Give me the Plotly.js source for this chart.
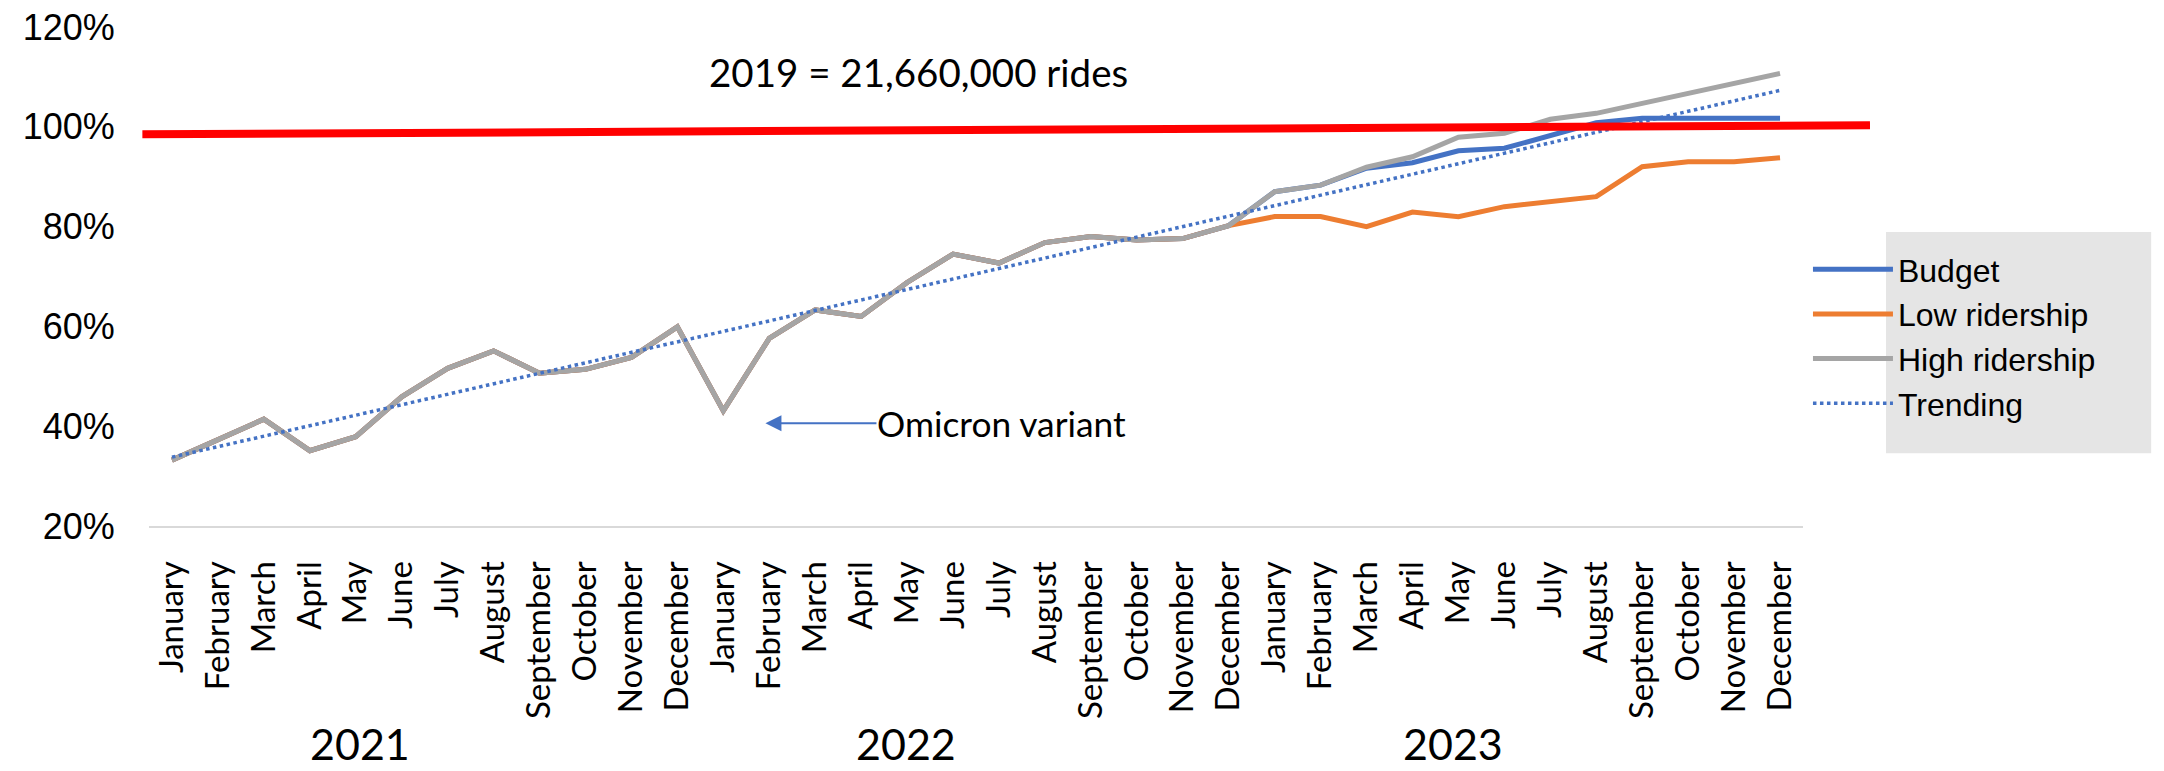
<!DOCTYPE html>
<html>
<head>
<meta charset="utf-8">
<script src="https://cdn.plot.ly/plotly-3.0.1.min.js"></script>
<style>html,body{margin:0;padding:0;background:#fff;}#chart{width:2164px;height:771px;}</style>
</head>
<body>
<div id="chart"></div>
<script>
// ---- data ----
const months = ['January','February','March','April','May','June','July','August','September','October','November','December'];
const years = ['2021','2022','2023'];

const budget = [33.2, 37.3, 41.4, 35.1, 37.9, 45.9, 51.6, 55.1, 50.6, 51.4, 53.8, 59.9,
                43.1, 57.6, 63.3, 62.0, 68.8, 74.5, 72.7, 76.8, 78.0, 77.3, 77.6, 80.2,
                87.0, 88.3, 91.7, 92.8, 95.2, 95.7, 98.2, 100.8, 101.7, 101.7, 101.6, 101.7];
const lowRidership = [33.2, 37.3, 41.4, 35.1, 37.9, 45.9, 51.6, 55.1, 50.6, 51.4, 53.8, 59.9,
                43.1, 57.6, 63.3, 62.0, 68.8, 74.5, 72.7, 76.8, 78.0, 77.3, 77.6, 80.2,
                82.0, 82.0, 80.0, 82.9, 82.0, 84.0, 85.0, 86.0, 92.0, 93.0, 93.0, 93.8];
const highRidership = [33.2, 37.3, 41.4, 35.1, 37.9, 45.9, 51.6, 55.1, 50.6, 51.4, 53.8, 59.9,
                43.1, 57.6, 63.3, 62.0, 68.8, 74.5, 72.7, 76.8, 78.0, 77.3, 77.6, 80.2,
                87.0, 88.3, 91.9, 94.0, 97.9, 98.7, 101.5, 102.7, 104.7, 106.7, 108.7, 110.7];
const trendEnds = [33.8, 107.3];          // trendline at first and last month
const baseline2019 = [98.5, 100.3];       // hand-drawn 100% line (left, right end)
const yTicks = [20, 40, 60, 80, 100, 120];
const titleText = '2019 = 21,660,000 rides';
const noteText = 'Omicron variant';
const noteValue = 40.6;

// ---- build categories ----
const cats = [];
const catText = [];
years.forEach(y => months.forEach(m => { cats.push(m + ' ' + y); catText.push(m); }));

const calibri = 'Lato, "Open Sans", sans-serif';
const narrow = '"Liberation Sans Narrow", "Arial Narrow", "Liberation Sans", Arial, sans-serif';

const traces = [
  {x: cats, y: budget, name: 'Budget', type: 'scatter', mode: 'lines',
   line: {color: '#4472C4', width: 5, shape: 'linear'}},
  {x: cats, y: lowRidership, name: 'Low ridership', type: 'scatter', mode: 'lines',
   line: {color: '#ED7D31', width: 5}},
  {x: cats, y: highRidership, name: 'High ridership', type: 'scatter', mode: 'lines',
   line: {color: '#A5A5A5', width: 5}},
  {x: [cats[0], cats[cats.length - 1]], y: trendEnds, name: 'Trending', type: 'scatter', mode: 'lines',
   line: {color: '#4472C4', width: 3.5, dash: 'dot'}}
];

const yearPos = [0.1276, 0.4574, 0.7883];
const annotations = [
  {text: titleText, xref: 'paper', yref: 'paper', x: 0.4652, y: 0.91, showarrow: false,
   xanchor: 'center', yanchor: 'middle', font: {family: calibri, size: 38.5, color: '#000'}},
  {text: noteText, xref: 'paper', yref: 'y', x: 0.3727, y: noteValue, showarrow: true,
   ax: 111, ay: 0, xanchor: 'left', yanchor: 'middle', arrowhead: 2, arrowsize: 1.6,
   arrowwidth: 2, arrowcolor: '#4472C4', standoff: 0, borderpad: 0,
   font: {family: calibri, size: 35.3, color: '#000'}}
];
years.forEach((y, i) => annotations.push({
  text: y, xref: 'paper', yref: 'paper', x: yearPos[i], y: -0.435, showarrow: false,
  xanchor: 'center', yanchor: 'middle', font: {family: calibri, size: 43, color: '#000'}
}));

const layout = {
  width: 2164, height: 771,
  margin: {l: 149, r: 361, t: 27, b: 245, pad: 0},
  paper_bgcolor: '#fff', plot_bgcolor: 'rgba(0,0,0,0)',
  showlegend: true,
  legend: {x: 1.003, xanchor: 'left', y: 0.569, yanchor: 'top', bgcolor: 'rgba(0,0,0,0)',
           font: {family: narrow, size: 32, color: '#000'}, itemwidth: 80, tracegroupgap: 0},
  xaxis: {type: 'category', tickvals: cats, ticktext: catText, tickangle: -90,
          range: [-0.5, cats.length - 0.5], showgrid: false, zeroline: false,
          showline: true, linecolor: '#D9D9D9', linewidth: 2,
          ticks: 'outside', ticklen: 20, tickcolor: 'rgba(0,0,0,0)',
          tickfont: {family: calibri, size: 33, color: '#000'}},
  yaxis: {range: [20, 120], tickvals: yTicks, ticktext: yTicks.map(v => v + '%'),
          showgrid: false, zeroline: false, showline: false,
          ticks: 'outside', ticklen: 26, tickcolor: 'rgba(0,0,0,0)',
          tickfont: {family: narrow, size: 36, color: '#000'}},
  shapes: [
    {type: 'rect', xref: 'paper', yref: 'paper', x0: 1.0502, x1: 1.2105, y0: 0.146, y1: 0.589,
     fillcolor: '#E5E5E5', line: {width: 0}, layer: 'below'},
    {type: 'line', xref: 'paper', yref: 'y', x0: -0.004, x1: 1.0405,
     y0: baseline2019[0], y1: baseline2019[1], line: {color: '#FF0000', width: 8}, layer: 'above'}
  ],
  annotations: annotations
};

Plotly.newPlot('chart', traces, layout, {displayModeBar: false, staticPlot: true});
</script>
</body>
</html>
